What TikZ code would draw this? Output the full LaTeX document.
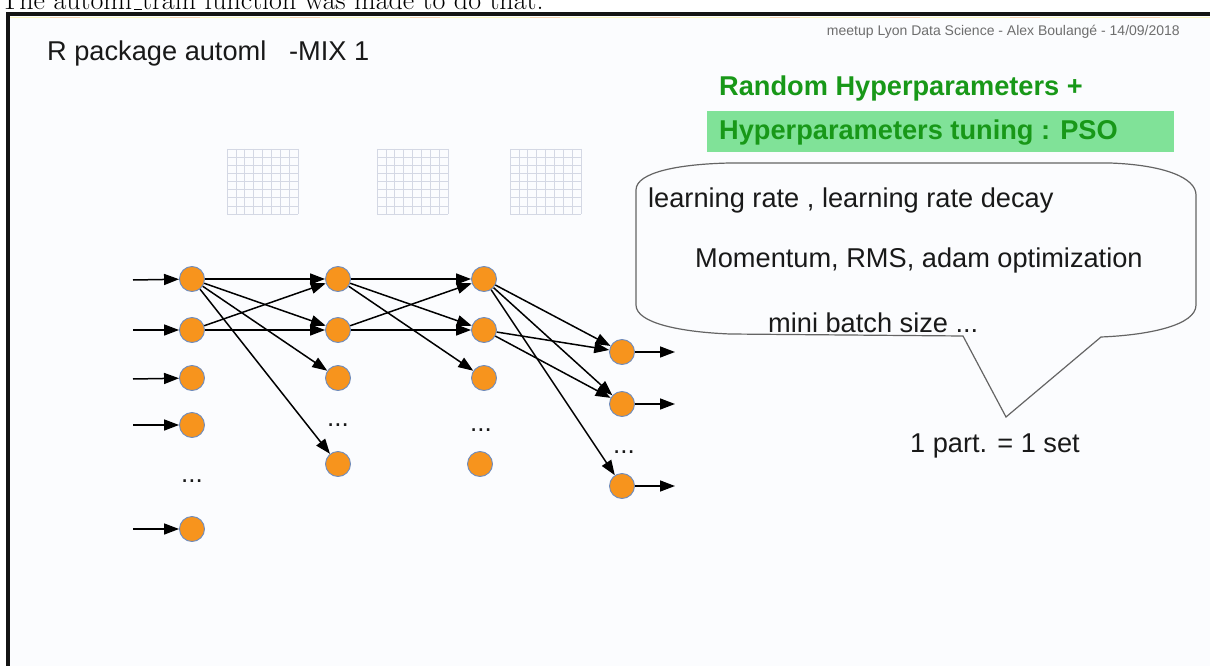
\documentclass[tikz,border=0pt]{standalone}
\usepackage{fontspec}
\newfontfamily\sansf{Liberation Sans}
\usetikzlibrary{arrows.meta}
\definecolor{bgc}{RGB}{251,252,254}
\definecolor{orangef}{RGB}{247,148,29}
\definecolor{neuronb}{RGB}{110,140,190}
\definecolor{greent}{RGB}{24,152,24}
\definecolor{greenbox}{RGB}{128,226,152}
\definecolor{gridc}{RGB}{212,216,228}
\definecolor{bubblec}{RGB}{100,100,100}
\definecolor{headc}{RGB}{110,110,110}
\definecolor{txtc}{RGB}{25,25,25}
\definecolor{decoy}{RGB}{252,246,190}
\definecolor{decoo}{RGB}{248,214,175}
\tikzset{
  neuron/.style={circle, fill=orangef, draw=neuronb, line width=0.9pt, minimum size=25pt, inner sep=0pt},
  conn/.style={line width=1.5pt, draw=black, -{Triangle[length=15pt,width=11pt]}},
  txt/.style={font=\sansf\fontsize{27.2}{30}\selectfont, text=txtc, inner sep=0pt, anchor=west},
  dotsl/.style={font=\sansf\fontsize{26}{30}\selectfont, text=txtc, inner sep=0pt, anchor=base},
  gtxt/.style={font=\sansf\bfseries\fontsize{27.2}{30}\selectfont, text=greent, inner sep=0pt, anchor=base west},
  gridline/.style={draw=gridc, line width=0.6pt}
}
\begin{document}
\begin{tikzpicture}[x=1pt,y=-1pt]
\useasboundingbox (0,0) rectangle (1210,666);
% slide background and frame
\fill[bgc] (8,14) rectangle (1210,666);
\draw[decoy, line width=1.6pt] (10,17.5) -- (1210,17.5);
\draw[decoo, line width=1.6pt, dash pattern=on 30pt off 90pt] (50,17.5) -- (1210,17.5);
\draw[black!92, line width=4pt] (8,666) -- (8,14) -- (1210,14);
% cut-off caption above the slide
\node[anchor=base west, inner sep=0pt, font=\fontsize{28}{32}\selectfont] (cap) at (0.5,10) {The automl\kern.06em\vbox{\hrule width.3em height 0.9pt}train function was made to do that.};
% header texts
\node[txt] (title) at (47,53) {R package automl \ \ -MIX 1};
\node[anchor=east, inner sep=0pt, text=headc, font=\sansf\fontsize{14}{16}\selectfont] (head) at (1180,32) {meetup Lyon Data Science - Alex Boulangé - 14/09/2018};
\node[gtxt] (rand) at (719,96) {Random Hyperparameters +};
\fill[greenbox] (707,111) rectangle (1174,152);
\node[gtxt] (pso) at (719,140) {Hyperparameters tuning : PSO};
% grids
\foreach \gx in {227,377,510} {
  \foreach \k in {0,...,8} {
    \draw[gridline] ({\gx+\k*71/8},149) -- ({\gx+\k*71/8},214);
    \draw[gridline] (\gx,{149+\k*65/8}) -- ({\gx+71},{149+\k*65/8});
  }
}
% speech bubble
\draw[bubblec, line width=1.2pt, fill=bgc]
  (636,190) .. controls (636,172) and (680,164) .. (730,163) -- (1110,163)
  .. controls (1165,165) and (1196,178) .. (1196,195) -- (1196,305)
  .. controls (1196,325) and (1150,335) .. (1101,337) -- (1006,417) -- (963,336) -- (730,334)
  .. controls (680,332) and (636,323) .. (636,305) -- cycle;
\node[txt] (lr) at (648,200) {learning rate , learning rate decay};
\node[txt] (mom) at (695,260) {Momentum, RMS, adam optimization};
\node[txt] (mb) at (768,323) {mini batch size ...};
\node[txt] (part) at (910,446) {1 part. = 1 set};
% neurons
\node[neuron] (a1) at (192,279) {};
\node[neuron] (a2) at (192,330) {};
\node[neuron] (a3) at (192,378) {};
\node[neuron] (a4) at (192,425) {};
\node[neuron] (a5) at (192,529) {};
\node[dotsl] (ad) at (192,482) {...};
\node[neuron] (b1) at (338,279) {};
\node[neuron] (b2) at (338,330) {};
\node[neuron] (b3) at (338,378) {};
\node[neuron] (b4) at (338,464) {};
\node[dotsl] (bd) at (338,426) {...};
\node[neuron] (c1) at (484,279) {};
\node[neuron] (c2) at (484,330) {};
\node[neuron] (c3) at (484,378) {};
\node[neuron] (c4) at (480,464) {};
\node[dotsl] (cd) at (481,431) {...};
\node[neuron] (d1) at (622,352) {};
\node[neuron] (d2) at (622,404) {};
\node[neuron] (d3) at (622,486) {};
\node[dotsl] (dd) at (624,453) {...};
% inputs / outputs
\coordinate (i1) at (133,280);
\coordinate (i2) at (133,330);
\coordinate (i3) at (133,379);
\coordinate (i4) at (133,425);
\coordinate (i5) at (133,529);
\coordinate (o1) at (675,352);
\coordinate (o2) at (675,404);
\coordinate (o3) at (675,486);
\foreach \n in {1,...,5} {\draw[conn] (i\n) -- (a\n);}
\foreach \n in {1,2,3} {\draw[conn] (d\n) -- (o\n);}
% connections
\draw[conn] (a1) -- (b1);
\draw[conn] (a1) -- (b2);
\draw[conn] (a1) -- (b3);
\draw[conn] (a1) -- (b4);
\draw[conn] (a2) -- (b1);
\draw[conn] (a2) -- (b2);
\draw[conn] (b1) -- (c1);
\draw[conn] (b1) -- (c2);
\draw[conn] (b1) -- (c3);
\draw[conn] (b2) -- (c1);
\draw[conn] (b2) -- (c2);
\draw[conn] (c1) -- (d1);
\draw[conn] (c1) -- (d2);
\draw[conn] (c1) -- (d3);
\draw[conn] (c2) -- (d1);
\draw[conn] (c2) -- (d2);
\end{tikzpicture}
\end{document}
